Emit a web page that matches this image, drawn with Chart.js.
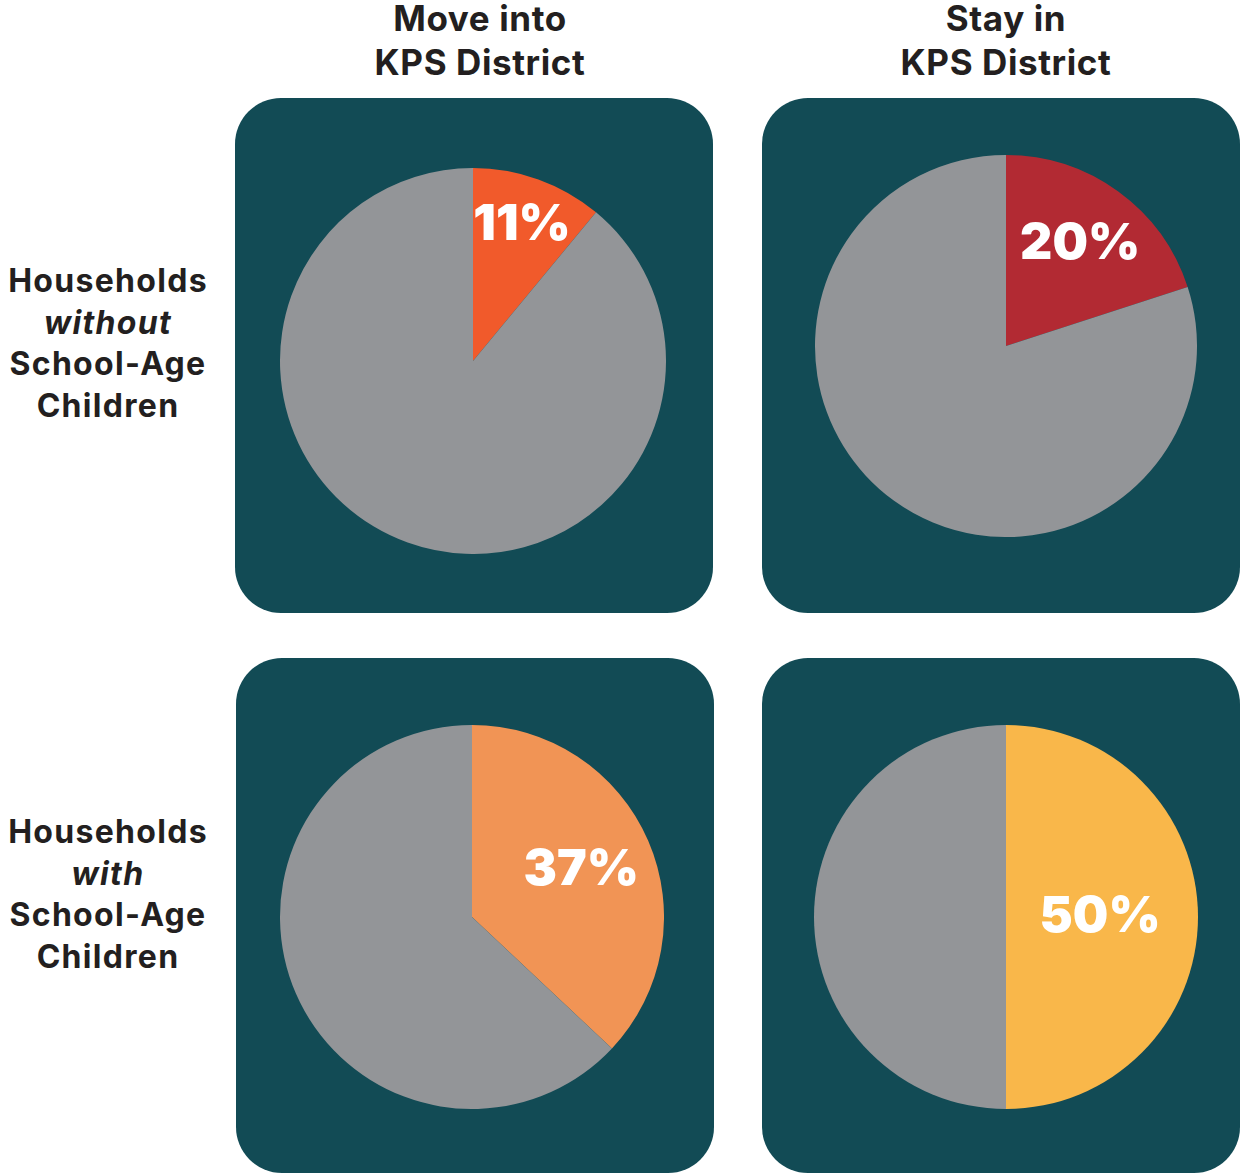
<!DOCTYPE html>
<html>
<head>
<meta charset="utf-8">
<script src="https://cdn.jsdelivr.net/npm/chart.js@4"></script>
<style>
  html, body { margin: 0; padding: 0; background: #fff; }
  body { width: 1242px; height: 1176px; position: relative; overflow: hidden; font-family: Inter, "Open Sans", sans-serif; color: #231f20; }
  .colhead { position: absolute; top: -4px; width: 478px; text-align: center; font-size: 35px; font-weight: 700; line-height: 44px; letter-spacing: 0.6px; }
  .rowhead { position: absolute; left: 0; width: 216px; text-align: center; font-size: 32px; font-weight: 700; line-height: 41.5px; letter-spacing: 1.3px; }
  .rowhead i { font-style: italic; }
  .panel { position: absolute; width: 478px; height: 515px; background: #124b55; border-radius: 46px; }
  .pie { position: absolute; }
</style>
</head>
<body>
<div class="colhead" style="left:241px">Move into<br>KPS District</div>
<div class="colhead" style="left:767px">Stay in<br>KPS District</div>
<div class="rowhead" style="top:260px">Households<br><i>without</i><br>School-Age<br>Children</div>
<div class="rowhead" style="top:811px">Households<br><i>with</i><br>School-Age<br>Children</div>

<div class="panel" id="p0" style="left:235px;top:98px"></div>
<div class="panel" id="p1" style="left:762px;top:98px"></div>
<div class="panel" id="p2" style="left:236px;top:658px"></div>
<div class="panel" id="p3" style="left:762px;top:658px"></div>

<script>
// share of households, in percent
const groups = ["Move into, without children", "Stay in, without children", "Move into, with children", "Stay in, with children"];
const shares = [11, 20, 37, 50];
const sliceColors = ["#f15a2b", "#b22a33", "#f19455", "#f9b74a"];
const restColor = "#939598";

// pie placement inside each panel (center x, center y, radius) and label distance factor
const pieGeom = [
  { cx: 238, cy: 263, r: 193, lab: 0.75 },
  { cx: 244, cy: 248, r: 191, lab: 0.66 },
  { cx: 236, cy: 259, r: 192, lab: 0.62 },
  { cx: 244, cy: 259, r: 192, lab: 0.49 }
];

const pctLabel = {
  id: 'pctLabel',
  afterDatasetsDraw(chart, args, opts) {
    const arc = chart.getDatasetMeta(0).data[0];
    const mid = (arc.startAngle + arc.endAngle) / 2;
    const d = arc.outerRadius * opts.factor;
    const x = arc.x + Math.cos(mid) * d;
    const y = arc.y + Math.sin(mid) * d;
    const ctx = chart.ctx;
    ctx.save();
    ctx.fillStyle = "#ffffff";
    ctx.font = "900 50px Inter, 'Open Sans', sans-serif";
    ctx.textAlign = "center";
    ctx.textBaseline = "middle";
    ctx.fillText(chart.data.datasets[0].data[0] + "%", x, y);
    ctx.restore();
  }
};

shares.forEach((v, i) => {
  const g = pieGeom[i];
  const box = document.createElement("div");
  box.className = "pie";
  box.style.left = (g.cx - g.r) + "px";
  box.style.top = (g.cy - g.r) + "px";
  box.style.width = (2 * g.r) + "px";
  box.style.height = (2 * g.r) + "px";
  const canvas = document.createElement("canvas");
  box.appendChild(canvas);
  document.getElementById("p" + i).appendChild(box);

  new Chart(canvas, {
    type: "pie",
    data: {
      labels: [groups[i], "Other"],
      datasets: [{
        data: [v, 100 - v],
        backgroundColor: [sliceColors[i], restColor],
        borderWidth: 0
      }]
    },
    options: {
      responsive: true,
      maintainAspectRatio: false,
      animation: false,
      layout: { padding: 0 },
      plugins: {
        legend: { display: false },
        tooltip: { enabled: false },
        pctLabel: { factor: g.lab }
      }
    },
    plugins: [pctLabel]
  });
});
</script>
</body>
</html>
